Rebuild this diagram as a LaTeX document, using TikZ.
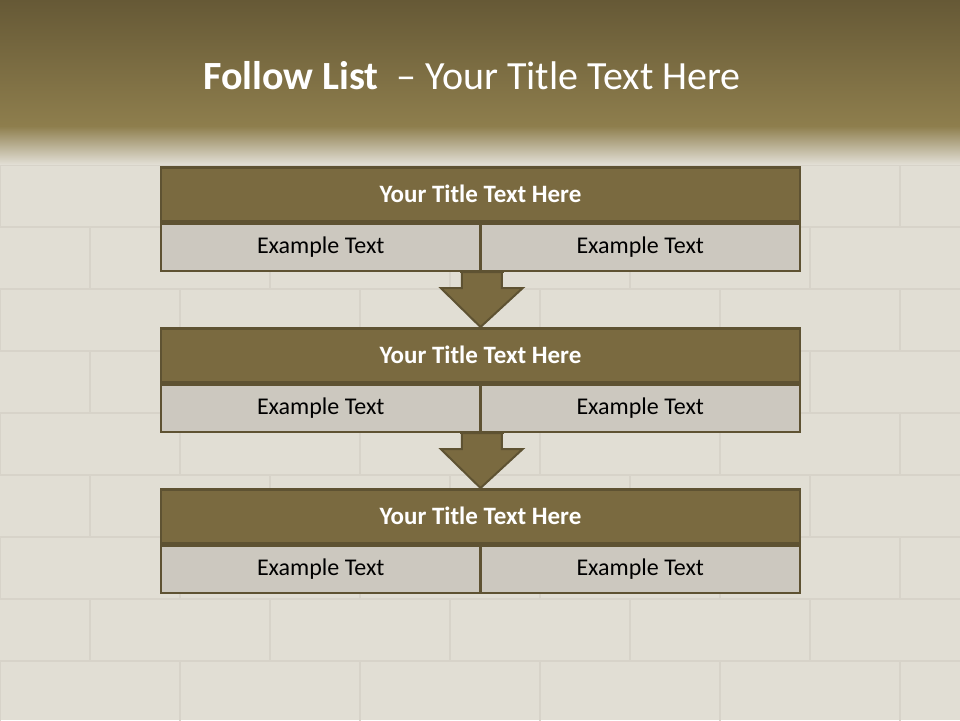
\documentclass[tikz,border=0pt]{standalone}
\usepackage{fontspec}
\setmainfont{Carlito}
\usetikzlibrary{positioning,calc}
\definecolor{wall}{HTML}{E1DED4}
\definecolor{joint}{HTML}{D7D3C9}
\definecolor{bandtop}{HTML}{665936}
\definecolor{bandlow}{HTML}{8E7E4D}
\definecolor{olive}{HTML}{7A6A40}
\definecolor{edge}{HTML}{5E5232}
\definecolor{cellfill}{HTML}{CCC8BF}

\begin{document}
\begin{tikzpicture}[
      x=1pt, y=-1pt,
      headbox/.style={draw=edge, line width=2.5pt, fill=olive,
                      minimum width=639pt, minimum height=54pt,
                      inner sep=0pt, text=white,
                      font=\fontsize{25}{30}\selectfont\bfseries},
      cellbox/.style={draw=edge, line width=2.5pt, fill=cellfill,
                      minimum width=319.5pt, minimum height=47pt,
                      inner sep=0pt, text=black,
                      font=\fontsize{24}{29}\selectfont},
      downarrow/.style={draw=edge, line width=2pt, fill=olive, line join=miter},
    ]
      % wall and title band
      \useasboundingbox (0,0) rectangle (960,720);
      \fill[wall] (0,0) rectangle (960,720);
      \foreach \row in {0,...,9}{
        \pgfmathsetmacro{\yy}{165+62*\row}
        \pgfmathsetmacro{\shift}{mod(\row,2)*90}
        \draw[joint, line width=1.2pt] (0,\yy) -- (960,\yy);
        \foreach \col in {0,...,5}
          \draw[joint, line width=1.2pt] ({\shift+180*\col},\yy) -- ++(0,62);
      }
      \shade[top color=bandtop, bottom color=bandlow] (0,0) rectangle (960,126);
      \shade[top color=bandlow, bottom color=wall] (0,126) rectangle (960,164);

      \node[text=white, font=\fontsize{40}{48}\selectfont] (title) at (472,76)
        {\textbf{Follow List}\ \ – Your Title Text Here};

      % three steps
      \foreach \i/\top in {1/166,2/327,3/488}{
        \node[headbox, anchor=north] (head\i) at (480.5,\top) {Your Title Text Here};
        \node[cellbox, anchor=north west] (left\i) at (head\i.south west) {Example Text};
        \node[cellbox, anchor=north east] (right\i) at (head\i.south east) {Example Text};
      }

      % block arrows between the steps
      \foreach \i/\j in {1/2,2/3}{
        \draw[downarrow] ($(left\i.south east)+(-20,0)$) -- ++(0,16) -- ++(-21,0)
          -- (head\j.north) -- ($(left\i.south east)+(41,16)$) -- ++(-21,0)
          -- ++(0,-16) -- cycle;
        \draw[draw=edge, line width=2.5pt] ($(left\i.south east)+(-22,0)$) -- ($(left\i.south east)+(22,0)$);
      }
\end{tikzpicture}
\end{document}
